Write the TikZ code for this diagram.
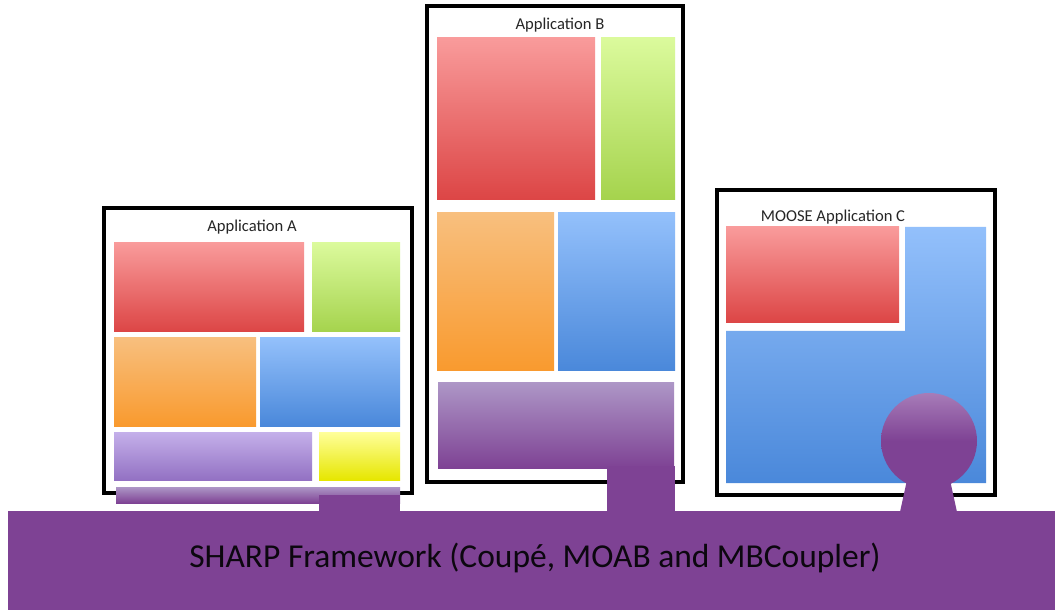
\documentclass[tikz,border=0pt]{standalone}
\usepackage{fontspec}
\setmainfont{Carlito}
\usepackage{tikz}
\usetikzlibrary{shadows}

\definecolor{fwpurple}{HTML}{7E4294}
\definecolor{redtop}{HTML}{F99B9B}
\definecolor{redbot}{HTML}{DC4545}
\definecolor{greentop}{HTML}{DBFA9C}
\definecolor{greenbot}{HTML}{A5D34D}
\definecolor{orangetop}{HTML}{F8BF7E}
\definecolor{orangebot}{HTML}{F99A2E}
\definecolor{bluetop}{HTML}{93C0FB}
\definecolor{bluebot}{HTML}{4A88DA}
\definecolor{lavtop}{HTML}{C4B0EA}
\definecolor{lavbot}{HTML}{9371C3}
\definecolor{yellowtop}{HTML}{FFFF9A}
\definecolor{yellowbot}{HTML}{E6E600}
\definecolor{ptop}{HTML}{AD96C6}
\definecolor{ctop}{HTML}{A77CB8}

\begin{document}
\begin{tikzpicture}[x=0.025cm, y=-0.025cm,
		appframe/.style={draw=black, line width=2.2pt, fill=white, drop shadow={shadow xshift=1.2pt, shadow yshift=-1.5pt, opacity=0.4}},
		apptitle/.style={anchor=base, text=black!85, font=\fontsize{11.8}{14}\selectfont},
		redblock/.style={top color=redtop, bottom color=redbot},
		greenblock/.style={top color=greentop, bottom color=greenbot},
		orangeblock/.style={top color=orangetop, bottom color=orangebot},
		blueblock/.style={top color=bluetop, bottom color=bluebot},
		lavblock/.style={top color=lavtop, bottom color=lavbot},
		yellowblock/.style={top color=yellowtop, bottom color=yellowbot},
		linkblock/.style={top color=ptop, bottom color=fwpurple}
	]
	\useasboundingbox (0,0) rectangle (1055,610);

	\draw[appframe] (104,208) rectangle (412,493);
	\draw[appframe] (427,6) rectangle (683,482);
	\draw[appframe] (717,190) rectangle (995,495);

	\node[apptitle] (titleA) at (252,232) {Application A};
	\node[apptitle] (titleB) at (560,30) {Application B};
	\node[apptitle] (titleC) at (833,222) {MOOSE Application C};

	\shade[redblock] (114,243) rectangle (304,332);
	\shade[greenblock] (312,243) rectangle (400,332);
	\shade[orangeblock] (114,338) rectangle (256,426);
	\shade[blueblock] (260,338) rectangle (400,426);
	\shade[lavblock] (114,432) rectangle (312,480);
	\shade[yellowblock] (319,432) rectangle (400,480);

	\shade[redblock] (437,38) rectangle (595,200);
	\shade[greenblock] (601,38) rectangle (675,200);
	\shade[orangeblock] (437,213) rectangle (554,371);
	\shade[blueblock] (558,213) rectangle (675,371);
	\shade[linkblock] (438,383) rectangle (674,468);

	\shade[redblock] (726,227) rectangle (899,323);
	\shade[blueblock] (905,227) -- (986,227) -- (986,483) -- (726,483) -- (726,331) -- (905,331) -- cycle;

	\shade[linkblock] (116,487) rectangle (400,503);
	\fill[fwpurple] (319,495) rectangle (400,512);
	\fill[fwpurple] (607,466) rectangle (675,512);
	\shade[top color=ctop, bottom color=fwpurple, middle color=fwpurple] (929,441) circle (48);
	\fill[fwpurple] (907,480) -- (950,480) -- (957,512) -- (900,512) -- cycle;

	\fill[fwpurple] (8,511) rectangle (1055,610);
	\node[anchor=base, text=black!90!fwpurple, font=\fontsize{23.8}{28}\selectfont] (fw) at (535,567) {SHARP Framework (Coupé, MOAB and MBCoupler)};
\end{tikzpicture}
\end{document}
